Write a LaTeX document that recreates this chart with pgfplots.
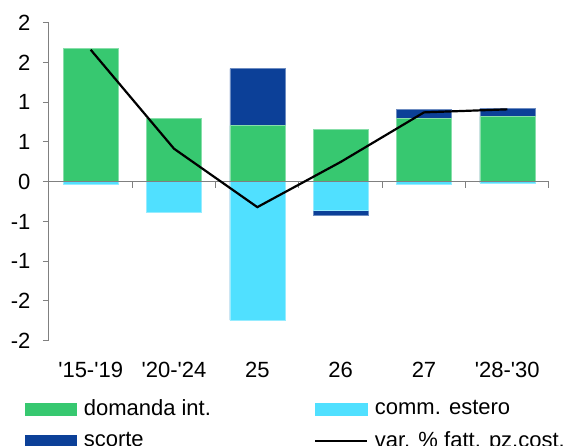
\documentclass[border=0pt]{standalone}
\usepackage{pgfplots}
\pgfplotsset{compat=1.18}
\usepackage{pgfplotstable}
\usepackage{fontspec}
\setmainfont{Liberation Sans}
\definecolor{cgreen}{RGB}{55,200,112}
\definecolor{ccyan}{RGB}{80,224,255}
\definecolor{cblue}{RGB}{12,64,152}
\pgfplotstableread{
x green cyan blue line
0 1.677 -0.030 0.000 1.66
1 0.796 -0.380 0.000 0.415
2 0.704 -1.740 0.717 -0.32
3 0.658 -0.356 -0.068 0.248
4 0.792 -0.030 0.122 0.872
5 0.820 -0.015 0.106 0.91
}\data
\begin{document}
\fontsize{22}{26}\selectfont
\begin{tikzpicture}
\begin{axis}[
  scale only axis, width=500pt, height=318pt,
  xmin=-0.5, xmax=5.5, ymin=-2, ymax=2,
  axis x line*=bottom, axis y line*=left,
  x axis line style={draw=none},
  y axis line style={draw=gray, line width=1pt, -},
  ytick={-2,-1.5,...,2},
  yticklabels={-2,-2,-1,-1,0,1,1,2,2},
  xtick={0,...,5},
  xticklabels={\textquotesingle15-\textquotesingle19,\textquotesingle20-\textquotesingle24,25,26,27,\textquotesingle28-\textquotesingle30},
  ytick style={draw=gray, line width=1pt},
  xtick style={draw=none},
  major tick length=6pt, tick align=outside,
  xticklabel style={yshift=-8pt},
  yticklabel style={xshift=-5pt},
  tick label style={font=\fontsize{22}{26}\selectfont},
  ybar, bar width=55pt,
  legend columns=2,
  legend cell align=left,
  legend style={draw=none, fill=none, at={(0,0)}, anchor=north west,
    xshift=-27.5pt, yshift=-55pt, font=\fontsize{22}{26}\selectfont,
    row sep=8pt,
    /tikz/every odd column/.append style={column sep=5pt},
    /tikz/every even column/.append style={column sep=101pt}},
]
\addplot[fill=cblue, draw=cblue!60!white, line width=0.6pt, bar shift=0pt, forget plot]
  table[x=x, y expr={\thisrow{green}+max(\thisrow{blue},0)}]{\data};
\addplot[fill=cgreen, draw=cgreen!60!white, line width=0.6pt, bar shift=0pt, forget plot]
  table[x=x, y=green]{\data};
\addplot[fill=cblue, draw=cblue!60!white, line width=0.6pt, bar shift=0pt, forget plot]
  table[x=x, y expr={\thisrow{cyan}+min(\thisrow{blue},0)}]{\data};
\addplot[fill=ccyan, draw=ccyan!60!white, line width=0.6pt, bar shift=0pt, forget plot]
  table[x=x, y=cyan]{\data};
\draw[gray, line width=1pt] (axis cs:-0.5,0) -- (axis cs:5.5,0);
\pgfplotsinvokeforeach{-0.5,0.5,1.5,2.5,3.5,4.5,5.5}{
  \draw[gray, line width=1pt] (axis cs:#1,0) -- ++(0pt,-6pt);
}
\addplot[sharp plot, black, line width=2.2pt, forget plot]
  table[x=x, y=line]{\data};
\addlegendimage{legend image code/.code={\fill[cgreen] (0pt,-6pt) rectangle (51.7pt,6pt);}}
\addlegendentry{domanda int.}
\addlegendimage{legend image code/.code={\fill[ccyan] (0pt,-6pt) rectangle (51.7pt,6pt);}}
\addlegendentry{comm. estero}
\addlegendimage{legend image code/.code={\fill[cblue] (0pt,-6pt) rectangle (51.7pt,6pt);}}
\addlegendentry{scorte}
\addlegendimage{legend image code/.code={\draw[black, line width=2.2pt] (0pt,0pt) -- (51.7pt,0pt);}}
\addlegendentry{var. \% fatt. pz.cost.}
\end{axis}
\pgfresetboundingbox
\useasboundingbox (-49pt,-105.3pt) rectangle (517pt,340.7pt);
\end{tikzpicture}
\end{document}
